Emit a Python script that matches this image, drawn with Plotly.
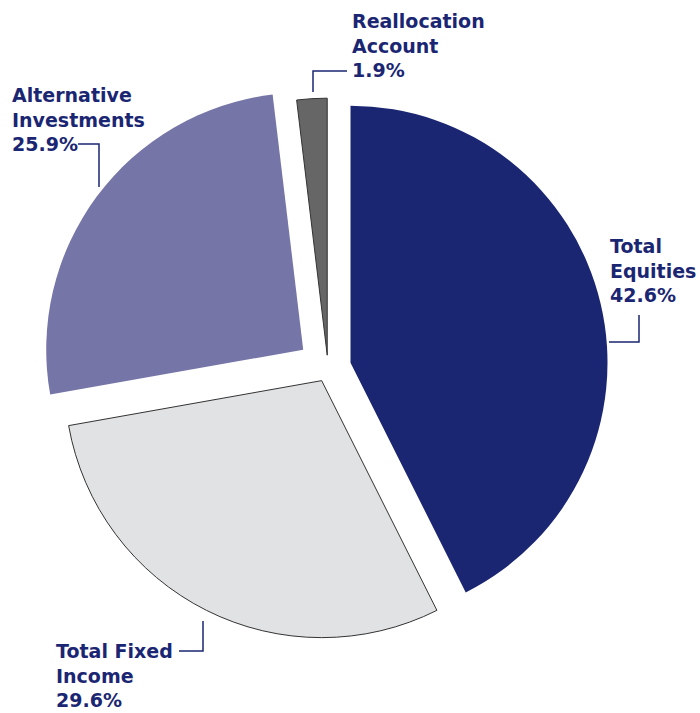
import plotly.graph_objects as go

labels = ["Total Equities", "Total Fixed Income", "Alternative Investments", "Reallocation Account"]
values = [42.6, 29.6, 25.9, 1.9]
label_lines = [["Total", "Equities"], ["Total Fixed", "Income"], ["Alternative", "Investments"], ["Reallocation", "Account"]]

colors = ["#1b2673", "#e1e2e4", "#7575a8", "#666666"]
line_colors = ["#1b2673", "#333333", "#7575a8", "#333333"]
line_widths = [0, 1, 0, 1]
pulls = [0.09, 0.055, 0.12, 0.05]

W, H = 700, 713
NAVY = "#1b2673"

# pie placement (pixels)
cx, cy, R = 328, 368, 257
half = R * (1 + max(pulls))

fig = go.Figure(go.Pie(
    labels=labels, values=values, sort=False, direction="clockwise", rotation=0,
    pull=pulls, textinfo="none", hoverinfo="label+percent",
    marker=dict(colors=colors, line=dict(color=line_colors, width=line_widths)),
    domain=dict(x=[(cx - half) / W, (cx + half) / W], y=[1 - (cy + half) / H, 1 - (cy - half) / H]),
    showlegend=False,
))

def px(x):
    return x / W

def py(y):
    return 1 - y / H

# label positions (pixels, top-left of text block)
label_pos = [(608, 233), (54, 638), (10, 82), (350, 8)]
for lines, v, (lx, ly) in zip(label_lines, values, label_pos):
    text = "<br>".join(lines + [f"{v:.1f}%"])
    fig.add_annotation(
        x=px(lx), y=py(ly), xref="paper", yref="paper", xanchor="left", yanchor="top",
        text=text, showarrow=False, align="left",
        font=dict(family="DejaVu Sans", size=19, color=NAVY, weight="bold"),
    )

# leader lines (pixels)
leaders = [
    [(639, 315), (639, 342), (609, 342)],
    [(179, 651), (203, 651), (203, 621)],
    [(78, 144), (99, 144), (99, 187)],
    [(347, 71), (313, 71), (313, 92)],
]
for pts in leaders:
    path = "M " + " L ".join(f"{px(x)},{py(y)}" for x, y in pts)
    fig.add_shape(type="path", path=path, xref="paper", yref="paper",
                  line=dict(color=NAVY, width=1.5))

fig.update_layout(
    width=W, height=H, margin=dict(l=0, r=0, t=0, b=0),
    paper_bgcolor="white", plot_bgcolor="white",
)

fig.write_html("out.html", config={"displayModeBar": False},
               post_script="document.body.style.margin='0';document.body.style.overflow='hidden';")
